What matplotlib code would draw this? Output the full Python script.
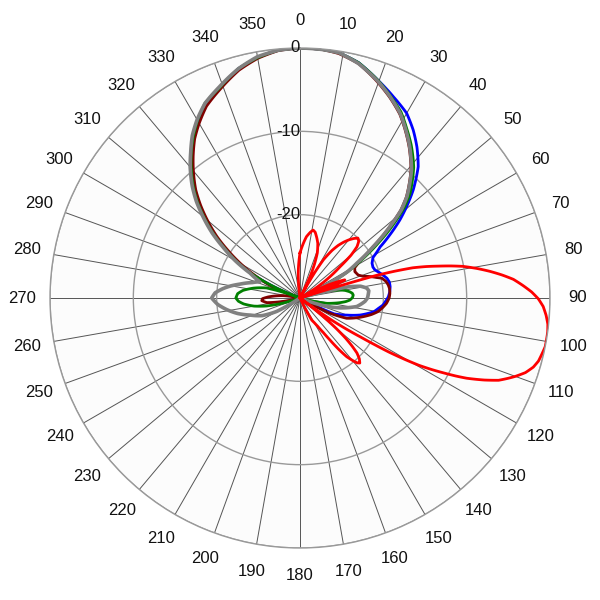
import matplotlib
matplotlib.use("Agg")
import matplotlib.pyplot as plt
import numpy as np

plt.rcParams["font.family"] = ["Liberation Sans", "DejaVu Sans"]

# pattern data: angle (deg, clockwise from north) and level (dB)
red_ang = [0, 3, 6, 9, 11, 13, 16, 18, 21, 23, 25, 27, 28, 30, 31.5, 34, 36, 38, 40, 42, 44,
           46, 48, 50, 52, 54, 56, 58, 60, 62, 65.5, 67, 68, 69, 70, 71.5,
           72.5, 73.5, 74.2, 75, 76, 77, 78, 79, 80.5, 82, 83.5, 85, 86.8, 88.5, 90.2, 92, 94,
           96, 97.8, 99.5, 101.2, 103, 104.8, 106.5, 108.3, 110, 111.2, 112.5, 114, 115.7, 116.6,
           117.5, 118.5, 119.5, 120.4, 121.3, 122, 122.8, 124, 125, 126.5,
           127, 128.7, 130, 131.4, 132.7, 134, 135.7, 137.4, 138.5, 139.5, 140.5, 141.5, 143,
           144.5, 146, 148, 150, 152, 155, 352, 354, 356, 358, 360]
red_db = [-24.6, -23.6, -22.6, -22, -21.7, -21.9, -22.6, -23.1, -24.2, -25.5, -27, -30,
          -30, -26.5, -24.6, -23.1, -22.2, -21.5, -20.9, -20.4, -20, -20.2, -20.8, -22, -23.9,
          -25.2, -26.5, -28, -30, -30, -26, -24.8, -24.2, -25, -26.5, -30,
          -30, -20.5, -18.2, -16, -14.4, -13, -11.5, -10.1, -8.5, -7, -5.6, -4.3, -3.2, -2.2,
          -1.4, -0.8, -0.4, -0.1, 0, 0, 0, -0.2, -0.4, -0.8, -1.5, -2.5, -3.3, -4.2, -5.8,
          -7.8, -9.1, -10.5, -12, -13.6, -15.5, -17.5, -19.4, -21.4, -23.6, -25.5, -30,
          -30, -26.4, -24.4, -22.7, -21.5, -20.5, -19.8, -19.4, -19.6, -20, -20.5, -21, -22.3,
          -23.8, -25, -26, -26.6, -27, -30, -30, -28.5, -27, -25.8, -24.6]

blue_ang = [0, 5, 9, 14, 19.5, 25, 30, 34, 37.8, 42, 46.3, 49, 52, 55, 57.5, 61, 64.2, 67,
            69.5, 73, 77.2, 80, 82.8, 86, 89.2, 92, 94.8, 97.5, 100.6, 103, 105.8, 110, 115,
            118, 290, 293, 296.5, 300, 303.5, 306.5, 310, 313, 316, 320, 323, 326.5, 330, 334,
            339, 345, 350, 355, 360]
blue_db = [0, -0.05, -0.2, -0.9, -2.2, -3.4, -4.4, -5.7, -7.1, -8.8, -11.2, -12.9, -14.8,
           -16.9, -18.6, -20, -20.4, -20.5, -20.4, -19.9, -19.3, -19.1, -19.1, -19.2, -19.4,
           -19.7, -20, -20.5, -21, -21.7, -22.5, -24, -25.5, -30, -30, -26.8, -23.6, -21.4,
           -19.3, -17.3, -15.1, -13.3, -11.7, -9.8, -8.4, -6.9, -5.5, -4.1, -3, -1.5, -0.7,
           -0.15, 0]

darkred_ang = [0, 5, 9, 14, 19.5, 24, 28.5, 32, 36, 41, 46.5, 49, 51, 53, 55, 58, 61, 64.4,
               68.5, 71, 73, 75, 76.4, 79, 81.6, 84, 87, 90, 93.5, 96.5, 99.9, 103, 106.5, 110,
               113.5, 117, 120, 255, 262, 266, 269, 272, 278, 282, 288, 293,
               296.5, 300, 303.5, 306.5, 310, 313, 316, 320, 323, 326.5, 330, 334, 339, 345,
               350, 355, 360]
darkred_db = [0, -0.06, -0.3, -1, -2.4, -3.6, -4.9, -6.2, -7.7, -9.7, -12.4, -14, -15.8,
              -17.5, -19.3, -21.5, -22.5, -22.7, -22.5, -22, -21.2, -20.5, -19.9, -19.5, -19.3,
              -19.2, -19.2, -19.3, -19.6, -20, -20.5, -21.2, -22.1, -23, -23.9, -26, -30,
              -30, -26, -25.4, -25.5, -26.2, -28, -30, -30, -26,
              -24, -21.8, -19.6, -17.6, -15.5, -13.7, -12, -10.1, -8.7, -7.1, -5.8, -4.4,
              -3.2, -1.7, -0.8, -0.2, 0]

green_ang = [0, 5, 9, 14, 19.5, 24, 28.5, 32, 36, 41, 46.5, 49, 51, 53, 55, 58.5, 61, 64.5, 67,
             72, 75, 78.7, 80.5, 82.8, 84.8, 86.8, 89.5, 92.3, 94.5, 96.7, 99, 101.2, 106,
             250, 256.5, 260, 264, 267, 270, 274, 277.6, 282, 286.7, 291, 292,
             296.5, 300, 303.5, 306.5, 310, 313, 316, 320, 323, 326.5, 330, 334, 339, 345,
             350, 355, 360]
green_db = [0, -0.05, -0.2, -0.9, -2.2, -3.4, -4.6, -5.9, -7.3, -9.2, -11.8, -13.4, -15.1,
            -16.8, -18.6, -21.5, -23.3, -26.5, -30,
            -30, -27, -25.1, -24.5, -24, -23.7, -23.6, -23.7, -24, -24.5, -25.2, -26, -26.7, -30,
            -30, -25.9, -24.4, -23.2, -22.6, -22.3, -22.5, -23.1, -24.3, -25.8, -30, -28,
            -23.5, -21.2, -19.1, -17.1, -15, -13.2, -11.6, -9.7, -8.3, -6.8, -5.4, -4.0, -3,
            -1.5, -0.7, -0.15, 0]

gray_ang = [0, 5, 9, 14, 19.5, 24, 28.5, 32, 36, 41, 46.5, 49, 51, 53, 55, 58.5, 61, 64.5, 67,
            74, 76, 77, 79, 81.5, 84, 87, 90, 93, 95.5, 98.5, 101, 104, 108, 112,
            236, 240, 245, 251, 256, 261, 265.5, 270, 273.5, 277, 280, 283, 288, 292, 296.5,
            300, 303.5, 306.5, 310, 313, 316, 320, 323, 326.5, 330, 334, 339, 345, 350, 355, 360]
gray_db = [0, -0.06, -0.2, -1, -2.3, -3.5, -4.8, -6.1, -7.6, -9.6, -12.3, -13.9, -15.7, -17.5,
           -19.3, -22, -23.5, -26.9, -30,
           -30, -26, -24, -22.6, -21.9, -21.7, -21.8, -21.9, -22.2, -22.6, -23.1, -24, -25.1,
           -27, -30,
           -30, -26.8, -25, -23.7, -22.3, -21.1, -20.1, -19.4, -19.8, -20.7, -21.6, -22.6, -24,
           -24.8, -23.3, -21, -18.9, -16.9, -14.8, -13, -11.4, -9.5, -8.2, -6.6, -5.3, -4.0,
           -2.9, -1.5, -0.6, -0.15, 0]

angle_ticks = list(range(0, 360, 10))
ring_levels = [-20, -10, 0]
R_MIN, R_MAX = -30, 0

traces = [
    (blue_ang, blue_db, "#0000ff", 2.0),
    (darkred_ang, darkred_db, "#800000", 2.0),
    (green_ang, green_db, "#008000", 2.0),
    (gray_ang, gray_db, "#808080", 2.6),
    (red_ang, red_db, "#ff0000", 2.0),
]

fig = plt.figure(figsize=(6, 6), dpi=100)
ax = fig.add_axes([50 / 600, 52 / 600, 500 / 600, 500 / 600], projection="polar")
ax.set_facecolor("#fcfcfc")
ax.set_theta_zero_location("N")
ax.set_theta_direction(-1)
ax.set_ylim(R_MIN, R_MAX)

ax.set_thetagrids(angle_ticks, labels=[""] * len(angle_ticks))
ax.set_rgrids(ring_levels, labels=[""] * len(ring_levels))
ax.xaxis.grid(True, color="#555555", lw=0.7)
ax.yaxis.grid(True, color="#999999", lw=1.0)
ax.spines["polar"].set_color("#999999")
ax.spines["polar"].set_linewidth(1.0)

for ang, db, color, lw in traces:
    th = np.deg2rad(np.array(ang))
    r = np.clip(np.array(db), R_MIN, R_MAX)
    ln, = ax.plot(th, r, color=color, lw=lw, solid_joinstyle="round")
    # draw segments as polar arcs instead of chords
    ln.recache()
    ln.get_path()._interpolation_steps = 12

# angle labels outside the ring
for a in angle_ticks:
    ax.text(np.deg2rad(a), 3.3, str(a), ha="center", va="center",
            fontsize=12, color="#111111", clip_on=False)

# level labels along the 0 degree spoke
for lv in ring_levels:
    ax.text(0, lv, str(lv), ha="right", va="center", fontsize=12,
            color="#111111", clip_on=False)

fig.savefig("out.png", dpi=100)
